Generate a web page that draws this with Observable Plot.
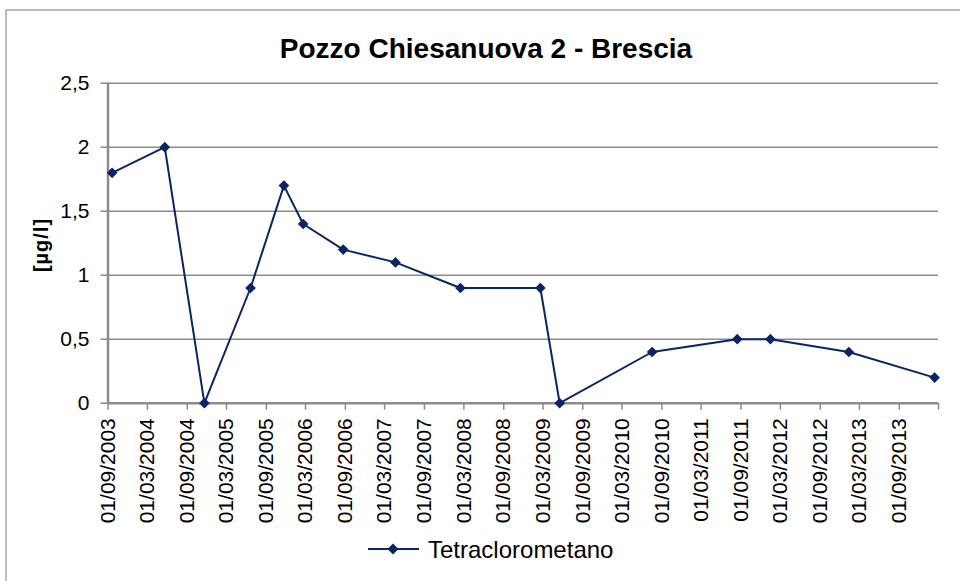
<!DOCTYPE html>
<html>
<head>
<meta charset="utf-8">
<script src="https://cdn.jsdelivr.net/npm/d3@7"></script>
<script src="https://cdn.jsdelivr.net/npm/@observablehq/plot@0.6"></script>
<style>
  html, body { margin: 0; padding: 0; background: #fff; }
  #wrap { position: relative; width: 960px; height: 581px; overflow: hidden; background: #fff; font-family: "Liberation Sans", Arial, sans-serif; }
  #wrap > svg { position: absolute; left: 0; top: 0; }
  #overlay { pointer-events: none; }
</style>
</head>
<body>
<div id="wrap"></div>
<script>
// ---- data ----
const title = "Pozzo Chiesanuova 2 - Brescia";
const yAxisLabel = "[µg/l]";
const seriesName = "Tetraclorometano";
const sampleDates = ["2003-09-20","2004-05-20","2004-11-19","2005-06-20","2005-11-21","2006-02-18","2006-08-22","2007-04-20","2008-02-14","2009-02-17","2009-05-17","2010-07-18","2011-08-15","2012-01-15","2013-01-11","2014-02-11"];
const sampleValues = [1.8, 2.0, 0, 0.9, 1.7, 1.4, 1.2, 1.1, 0.9, 0.9, 0, 0.4, 0.5, 0.5, 0.4, 0.2];
const xTicks = ["01/09/2003","01/03/2004","01/09/2004","01/03/2005","01/09/2005","01/03/2006","01/09/2006","01/03/2007","01/09/2007","01/03/2008","01/09/2008","01/03/2009","01/09/2009","01/03/2010","01/09/2010","01/03/2011","01/09/2011","01/03/2012","01/09/2012","01/03/2013","01/09/2013","01/03/2014"];
const xTicksLabelled = 21; // last tick (axis end) has no label
const yTicks = [0, 0.5, 1, 1.5, 2, 2.5];
const yTickLabels = ["0", "0,5", "1", "1,5", "2", "2,5"];

// ---- build ----
const parseDMY = s => { const [d, m, y] = s.split("/"); return new Date(Date.UTC(+y, +m - 1, +d)); };
const xTickDates = xTicks.map(parseDMY);
const rows = sampleDates.map((d, i) => ({date: new Date(d + "T00:00:00Z"), value: sampleValues[i]}));
const lineColor = "#0b2466";
const gridColor = "#8c8c8c";

const chart = Plot.plot({
  width: 960,
  height: 581,
  marginLeft: 107.5,
  marginRight: 22,
  marginTop: 82.7,
  marginBottom: 178.3,
  x: {type: "utc", domain: [xTickDates[0], xTickDates[xTickDates.length - 1]], label: null},
  y: {domain: [0, 2.5], label: null},
  style: {fontFamily: "'Liberation Sans', Arial, sans-serif", color: "black", background: "transparent", overflow: "visible"},
  marks: [
    Plot.ruleY(yTicks.slice(1), {stroke: gridColor, strokeWidth: 1.5}),
    Plot.axisY({ticks: yTicks, label: null, tickFormat: d => yTickLabels[yTicks.indexOf(d)], tickSize: 7, tickPadding: 11.5, fontSize: 21, stroke: gridColor, strokeWidth: 1.5, fill: "black"}),
    Plot.axisX({ticks: xTickDates, label: null, tickFormat: d => { const i = xTickDates.findIndex(t => +t === +d); return i >= 0 && i < xTicksLabelled ? xTicks[i] : ""; }, tickRotate: -90, tickSize: 7, tickPadding: 8, fontSize: 21, stroke: gridColor, strokeWidth: 1.5, fill: "black"}),
    Plot.ruleX([xTickDates[0]], {stroke: gridColor, strokeWidth: 2.5}),
    Plot.ruleY([0], {stroke: gridColor, strokeWidth: 2.5}),
    Plot.line(rows, {x: "date", y: "value", stroke: lineColor, strokeWidth: 2}),
    Plot.dot(rows, {x: "date", y: "value", symbol: "diamond2", r: 4.8, fill: lineColor, stroke: "none"})
  ]
});
const wrap = document.getElementById("wrap");
wrap.appendChild(chart);

// overlay: border, title, y label, legend
const ns = "http://www.w3.org/2000/svg";
const ov = document.createElementNS(ns, "svg");
ov.setAttribute("id", "overlay");
ov.setAttribute("width", 960);
ov.setAttribute("height", 581);
ov.style.fontFamily = "'Liberation Sans', Arial, sans-serif";
function el(tag, attrs, text) {
  const e = document.createElementNS(ns, tag);
  for (const k in attrs) e.setAttribute(k, attrs[k]);
  if (text != null) e.textContent = text;
  ov.appendChild(e);
  return e;
}
el("rect", {x: 6, y: 10, width: 1100, height: 1100, fill: "none", stroke: "#a6a6a6", "stroke-width": 1.5});
el("text", {x: 486, y: 58, "text-anchor": "middle", "font-size": 28, "font-weight": "bold", fill: "black"}, title);
el("text", {transform: "translate(41,245) rotate(-90)", "text-anchor": "middle", "dominant-baseline": "central", "font-size": 20, "font-weight": "bold", fill: "black", "letter-spacing": 1}, yAxisLabel);
el("line", {x1: 368, x2: 419, y1: 549, y2: 549, stroke: lineColor, "stroke-width": 2});
el("path", {d: "M393,543.5L398.5,549L393,554.5L387.5,549Z", fill: lineColor});
el("text", {x: 428, y: 558, "font-size": 24, fill: "black"}, seriesName);
wrap.appendChild(ov);
</script>
</body>
</html>
